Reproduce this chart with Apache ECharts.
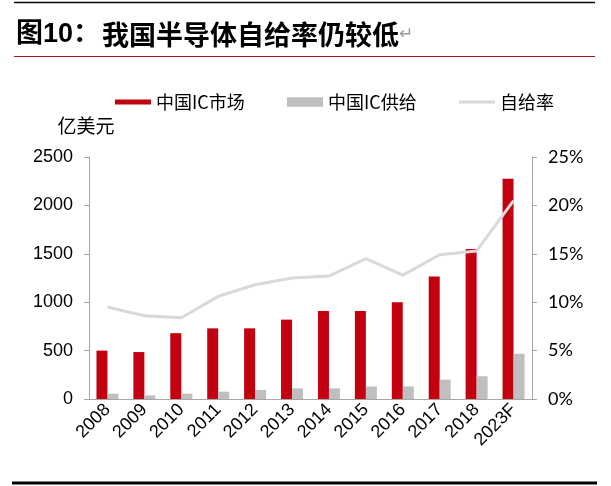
<!DOCTYPE html>
<html>
<head>
<meta charset="utf-8">
<script src="https://cdn.jsdelivr.net/npm/echarts@6/dist/echarts.min.js"></script>
<style>
html,body{margin:0;padding:0;background:#fff;}
#chart{width:611px;height:486px;}
</style>
</head>
<body>
<div id="chart"></div>
<script>
var categories = ['2008','2009','2010','2011','2012','2013','2014','2015','2016','2017','2018','2023F'];
var marketValues = [500, 485, 680, 730, 730, 820, 910, 910, 1000, 1265, 1550, 2275];
var supplyValues = [55, 38, 55, 76, 93, 110, 110, 130, 130, 200, 235, 467];
var rateValues = [9.5, 8.6, 8.4, 10.6, 11.8, 12.5, 12.7, 14.5, 12.8, 14.9, 15.3, 20.5];
var leftTicks = {min: 0, max: 2500, interval: 500};
var rightTicks = {min: 0, max: 25, interval: 5};

var titlePrefix = '图10：';
var titleText = '我国半导体自给率仍较低';
var seriesNames = ['中国IC市场', '中国IC供给', '自给率'];
var unitName = '亿美元';

var RED = '#c3000f', GRAY = '#bfbfbf', LINE = '#d9d9d9', AXIS = '#a6a6a6';
var cjk = '"Noto Sans CJK SC", sans-serif';
var latin = '"Liberation Sans", Arial, sans-serif';

var chart = echarts.init(document.getElementById('chart'), null, {renderer: 'canvas'});

function legendAt(left, name, icon) {
  return {
    left: left, top: 93, padding: 0,
    itemWidth: 36, itemHeight: 10,
    data: [{name: name, icon: icon}],
    textStyle: {fontFamily: cjk, fontSize: 18, color: '#000'},
    selectedMode: false
  };
}

chart.setOption({
  animation: false,
  backgroundColor: '#fff',
  graphic: [
    {type: 'line', shape: {x1: 14, y1: 2.5, x2: 595, y2: 2.5}, style: {stroke: '#000', lineWidth: 1.5}},
    {type: 'line', shape: {x1: 14, y1: 56.5, x2: 595, y2: 56.5}, style: {stroke: '#a3161c', lineWidth: 1.2}},
    {type: 'line', shape: {x1: 12, y1: 483, x2: 597, y2: 483}, style: {stroke: '#000', lineWidth: 3}},
    {type: 'text', x: 16, y: 35,
      style: {
        text: '{p|' + titlePrefix + '}{a|' + titleText + '}{b|↵}',
        verticalAlign: 'middle',
        rich: {
          p: {fontFamily: '"Liberation Sans", "Noto Sans CJK SC", sans-serif', fontWeight: 'bold', fontSize: 27, fill: '#000', width: 86},
          a: {fontFamily: '"Noto Sans CJK SC", sans-serif', fontWeight: 'bold', fontSize: 27, fill: '#000'},
          b: {fontFamily: '"DejaVu Sans", sans-serif', fontSize: 17, fill: '#999'}
        }
      }
    }
  ],
  legend: [
    legendAt(115, seriesNames[0], 'path://M0,0H36V5H0Z'),
    legendAt(287, seriesNames[1], 'path://M0,0H38V10H0Z'),
    legendAt(459, seriesNames[2], 'path://M0,0H38V3H0Z')
  ],
  grid: {left: 89, right: 79, top: 157, bottom: 87, containLabel: false},
  xAxis: {
    type: 'category',
    data: categories,
    axisLine: {lineStyle: {color: AXIS, width: 1}},
    axisTick: {show: false},
    axisLabel: {
      rotate: 45, interval: 0, margin: 8,
      fontFamily: latin, fontSize: 18, color: '#000'
    }
  },
  yAxis: [
    {
      type: 'value',
      min: leftTicks.min, max: leftTicks.max, interval: leftTicks.interval,
      name: unitName, nameLocation: 'end', nameGap: 22,
      nameTextStyle: {fontFamily: cjk, fontSize: 19, color: '#000', align: 'center', padding: [0, 6, 0, 0]},
      axisLine: {show: true, lineStyle: {color: AXIS, width: 1}},
      axisTick: {show: true, length: 5, lineStyle: {color: AXIS}},
      splitLine: {show: false},
      axisLabel: {margin: 16, fontFamily: latin, fontSize: 18, color: '#000',
        formatter: function (v) { return String(v); }}
    },
    {
      type: 'value',
      min: rightTicks.min, max: rightTicks.max, interval: rightTicks.interval,
      position: 'right',
      axisLine: {show: true, lineStyle: {color: AXIS, width: 1}},
      axisTick: {show: true, length: 5, lineStyle: {color: AXIS}},
      splitLine: {show: false},
      axisLabel: {margin: 16, formatter: '{value}%', fontFamily: 'Lato, "Open Sans", sans-serif', fontSize: 18, color: '#000'}
    }
  ],
  series: [
    {
      name: seriesNames[0], type: 'bar', data: marketValues,
      barWidth: 11, barGap: '0%',
      itemStyle: {color: RED}
    },
    {
      name: seriesNames[1], type: 'bar', data: supplyValues,
      barWidth: 11, barGap: '0%',
      itemStyle: {color: GRAY}
    },
    {
      name: seriesNames[2], type: 'line', yAxisIndex: 1, data: rateValues,
      symbol: 'none', smooth: false,
      lineStyle: {color: LINE, width: 3},
      itemStyle: {color: LINE},
      z: 5
    }
  ]
});
</script>
</body>
</html>
